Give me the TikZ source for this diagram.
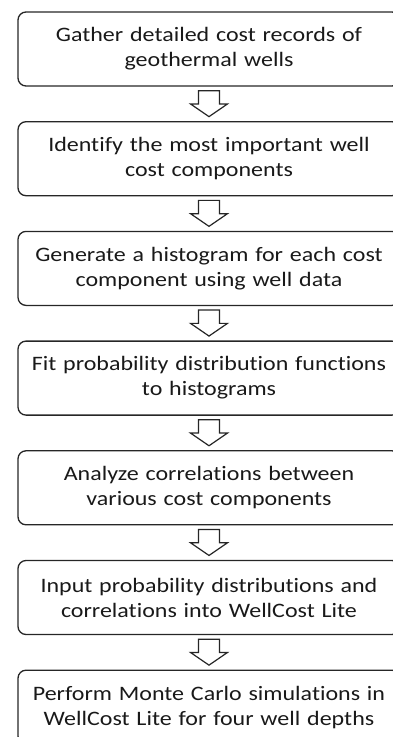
\documentclass[tikz,border=0pt]{standalone}
\usepackage{fontspec}
\setmainfont[FakeStretch=1.17,Ligatures=NoCommon]{Carlito}
\usetikzlibrary{calc}
\tikzset{
  stepbox/.style={draw=black!85, line width=1.3pt, rounded corners=8pt,
    minimum width=382pt, minimum height=74pt, inner sep=0pt,
    text width=378pt, align=center, text=black!90,
    font=\fontsize{20.5pt}{25pt}\selectfont},
  hollow/.style={draw=black!85, line width=1.2pt, fill=white, line join=miter}
}
\newcommand\harrow[2]{%
  \draw[hollow] ($(#1.south)+(-10.5,4)$) -- ++(0,13.3) -- ++(-8,0)
    -- ($(#2.north)+(0,-4.4)$) -- ($(#1.south)+(18.5,17.3)$) -- ++(-8,0)
    -- ++(0,-13.3) -- cycle;}
\begin{document}
\begin{tikzpicture}[x=1pt,y=-1pt]
\useasboundingbox (0,0) rectangle (393,737);
\clip (0,0) rectangle (393,737);
\node[stepbox] (b1) at (209,49.0) {Gather detailed cost records of\\geothermal wells};
\node[stepbox] (b2) at (209,158.7) {Identify the most important well\\cost components};
\node[stepbox] (b3) at (209,268.4) {Generate a histogram for each cost\\component using well data};
\node[stepbox] (b4) at (209,378.1) {Fit probability distribution functions\\to histograms};
\node[stepbox] (b5) at (209,487.8) {Analyze correlations between\\various cost components};
\node[stepbox] (b6) at (209,597.5) {Input probability distributions and\\correlations into WellCost Lite};
\node[stepbox] (b7) at (209,707.2) {Perform Monte Carlo simulations in\\WellCost Lite for four well depths};
\harrow{b1}{b2}
\harrow{b2}{b3}
\harrow{b3}{b4}
\harrow{b4}{b5}
\harrow{b5}{b6}
\harrow{b6}{b7}
\end{tikzpicture}
\end{document}
